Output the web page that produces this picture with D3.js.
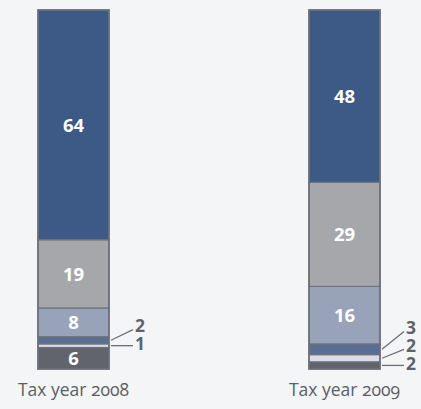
<!DOCTYPE html>
<html>
<head>
<meta charset="utf-8">
<script src="https://cdn.jsdelivr.net/npm/d3@7/dist/d3.min.js"></script>
<style>
  html, body { margin: 0; padding: 0; background: #f4f5f7; }
  svg { display: block; }
</style>
</head>
<body>
<svg id="chart" width="421" height="409"></svg>
<script>
// Bars, in stacking order from the bottom segment to the top one
const years = ["Tax year 2008", "Tax year 2009"];
const segments = ["a", "b", "c", "d", "e", "f"];
const values2008 = [6, 1, 2, 8, 19, 64];
const values2009 = [2, 2, 3, 16, 29, 48];
const segmentColors = ["#61646d", "#dadde3", "#5a6d92", "#98a3b9", "#a6a7ab", "#3d5a87"];

const rows = [values2008, values2009].map((vals, i) => {
  const r = { year: years[i] };
  segments.forEach((k, j) => r[k] = vals[j]);
  return r;
});

const svg = d3.select("#chart");
const x = d3.scaleBand().domain(years).range([38, 380]).paddingInner(0.738).paddingOuter(0);
const y = d3.scaleLinear().domain([0, 100]).range([369, 10]);
const color = d3.scaleOrdinal().domain(segments).range(segmentColors);

const stacked = d3.stack().keys(segments)(rows);

// segments
const layer = svg.append("g").selectAll("g").data(stacked).join("g")
  .attr("fill", d => color(d.key));
layer.selectAll("rect").data(d => d.map(p => ({ p, key: d.key }))).join("rect")
  .attr("x", d => x(d.p.data.year))
  .attr("width", x.bandwidth())
  .attr("y", d => y(d.p[1]))
  .attr("height", d => y(d.p[0]) - y(d.p[1]))
  .attr("stroke", "#70737c")
  .attr("stroke-width", 1.2);

// outline of each bar
svg.append("g").selectAll("rect").data(rows).join("rect")
  .attr("x", d => x(d.year))
  .attr("width", x.bandwidth())
  .attr("y", y(100))
  .attr("height", y(0) - y(100))
  .attr("fill", "none")
  .attr("stroke", "#6c6f78")
  .attr("stroke-width", 1.6);

const minInside = 4;
const labelFont = "'Open Sans', 'Noto Sans', sans-serif";

// values printed inside the taller segments
const inside = [];
stacked.forEach(s => s.forEach(p => {
  const v = p[1] - p[0];
  if (v >= minInside) inside.push({ v, year: p.data.year, mid: (p[0] + p[1]) / 2 });
}));
svg.append("g").selectAll("text").data(inside).join("text")
  .attr("x", d => x(d.year) + x.bandwidth() / 2)
  .attr("y", d => y(d.mid))
  .attr("dy", "0.36em")
  .attr("text-anchor", "middle")
  .attr("fill", "#ffffff")
  .attr("font-family", labelFont)
  .attr("font-weight", 700)
  .attr("font-size", 18.5)
  .text(d => d.v);

// callouts for the thin segments, stacked upward from the lowest one
const callouts = [];
rows.forEach(r => {
  const small = [];
  stacked.forEach(s => {
    const p = s.find(q => q.data.year === r.year);
    const v = p[1] - p[0];
    if (v < minInside) small.push({ v, year: r.year, mid: (p[0] + p[1]) / 2 });
  });
  if (!small.length) return;
  const base = y(small[0].mid) - 2;
  small.forEach((d, i) => {
    d.ly = base - i * 18;
    d.sy = y(d.mid);
    callouts.push(d);
  });
});

const right = d => x(d.year) + x.bandwidth();
const cg = svg.append("g");
cg.selectAll("line").data(callouts).join("line")
  .attr("x1", d => right(d) + 2)
  .attr("y1", d => d.sy)
  .attr("x2", d => right(d) + 24)
  .attr("y2", d => Math.abs(d.ly - d.sy) < 4 ? d.sy : d.ly + 4)
  .attr("stroke", "#6c6f78")
  .attr("stroke-width", 1.3);
cg.selectAll("text").data(callouts).join("text")
  .attr("x", d => right(d) + 26)
  .attr("y", d => d.ly)
  .attr("dy", "0.36em")
  .attr("fill", "#5f626b")
  .attr("font-family", labelFont)
  .attr("font-weight", 700)
  .attr("font-size", 17.5)
  .text(d => d.v);

// year labels under the bars
const axis = d3.axisBottom(x).tickSize(0).tickPadding(15);
const ax = svg.append("g").attr("transform", `translate(0,${y(0)})`).call(axis);
ax.select(".domain").remove();
ax.selectAll("text")
  .attr("fill", "#5b5e66")
  .attr("font-family", labelFont)
  .attr("font-size", 17.5)
  .style("font-variant-numeric", "oldstyle-nums")
  .style("font-feature-settings", "'onum' 1");
</script>
</body>
</html>
